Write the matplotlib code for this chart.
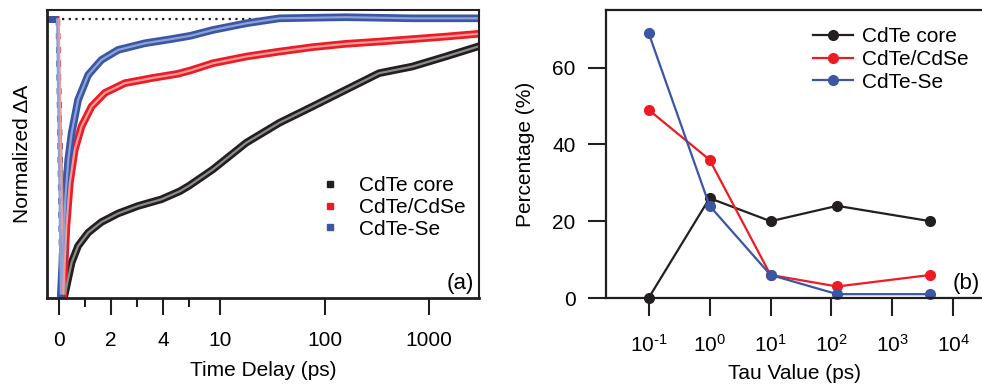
import numpy as np
import matplotlib

matplotlib.use("Agg")
import matplotlib.pyplot as plt
from matplotlib.lines import Line2D

plt.rcParams["font.family"] = ["Liberation Sans", "DejaVu Sans"]
plt.rcParams["font.size"] = 15
plt.rcParams["mathtext.fontset"] = "custom"
plt.rcParams["mathtext.rm"] = "Liberation Sans"
plt.rcParams["mathtext.it"] = "Liberation Sans:italic"

# ---- panel (a): normalized transient absorption kinetics
core_t = [-0.45, -0.05, 0.22, 0.48, 0.73, 1.12, 1.63, 2.27, 3.04, 3.94, 4.65, 5.03,
          8.5, 17.7, 36.8, 76.5, 159, 331, 690, 1436, 2920]
core_v = [0.0, 0.0, -0.99, -0.877, -0.817, -0.769, -0.731, -0.70, -0.673, -0.649,
          -0.62, -0.60, -0.541, -0.445, -0.373, -0.314, -0.254, -0.194, -0.17,
          -0.134, -0.098]

shell_t = [-0.45, -0.02, 0.155, 0.28, 0.41, 0.60, 0.86, 1.25, 1.76, 2.53, 3.55,
           4.58, 5.18, 8.5, 17.7, 36.8, 76.5, 159, 331, 690, 1436, 2920]
shell_v = [0.0, 0.0, -0.99, -0.745, -0.59, -0.47, -0.386, -0.314, -0.265, -0.23,
           -0.212, -0.196, -0.184, -0.158, -0.134, -0.116, -0.10, -0.088, -0.08,
           -0.071, -0.062, -0.052]

alloy_t = [-0.45, -0.08, 0.065, 0.245, 0.35, 0.48, 0.73, 1.12, 1.63, 2.27, 3.30,
           4.32, 5.18, 8.5, 17.7, 36.8, 159, 690, 2920]
alloy_v = [0.0, 0.0, -0.99, -0.637, -0.505, -0.41, -0.29, -0.20, -0.146, -0.11,
           -0.086, -0.071, -0.059, -0.038, -0.014, 0.004, 0.008, 0.004, 0.004]

# ---- panel (b): amplitude of each lifetime component
tau = [0.1, 1, 10, 124, 4200]
pct_core = [0, 26, 20, 24, 20]
pct_shell = [49, 36, 6, 3, 6]
pct_alloy = [69, 24, 6, 1, 1]
tau_ticks = [1e-1, 1e0, 1e1, 1e2, 1e3, 1e4]
tau_ticklabels = [r"$10^{\text{-}1}$", r"$10^{0}$", r"$10^{1}$", r"$10^{2}$",
                  r"$10^{3}$", r"$10^{4}$"]

labels = ["CdTe core", "CdTe/CdSe", "CdTe-Se"]
data_colors = ["#231f20", "#ed1c24", "#3a56a5"]
fit_colors = ["#8c8c8c", "#f39a9a", "#8fa2d6"]

K = 104.7 / 26.0  # decade width relative to 1 ps in the linear part


def _fwd(t):
    t = np.asarray(t, dtype=float)
    return np.where(t <= 5, t, 5 + K * np.log10(np.maximum(t, 5) / 5))


def _inv(u):
    u = np.asarray(u, dtype=float)
    return np.where(u <= 5, u, 5 * 10 ** ((np.maximum(u, 5) - 5) / K))


fig = plt.figure(figsize=(9.82, 3.87), dpi=100)
W, H = 982.0, 387.0
ax1 = fig.add_axes([47 / W, 89 / H, 432 / W, 288 / H])
ax2 = fig.add_axes([606 / W, 89 / H, 376 / W, 288 / H])

# ---------------- panel (a)
ax1.set_xscale("function", functions=(_fwd, _inv))
ax1.set_xlim(-0.47, 3000)
ax1.set_ylim(-1.005, 0.034)
ax1.hlines(0, 0.1, 3000, colors="#231f20", linestyles=(0, (1, 2)), linewidth=1.6)

series = [(core_t, core_v), (shell_t, shell_v), (alloy_t, alloy_v)]
for (t, v), dc in zip(series, data_colors):
    ax1.plot(t[1:3], v[1:3], color=dc, lw=2.2, ls=(0, (2, 2.5)))
    ax1.plot(t[:2], v[:2], color=dc, lw=5, solid_capstyle="butt")
    ax1.plot(t[2:], v[2:], color=dc, lw=5.5, solid_joinstyle="round")
for (t, v), fc in zip(series, fit_colors):
    ax1.plot(t[1:], v[1:], color=fc, lw=1.6)

ax1.set_xticks([0, 2, 4, 10, 100, 1000])
ax1.set_xticklabels(["0", "2", "4", "10", "100", "1000"])
ax1.set_xticks([1, 3, 5], minor=True)
ax1.set_yticks([])
ax1.tick_params(axis="x", which="major", direction="out", length=12, width=1.5,
                pad=12, color="#231f20")
ax1.tick_params(axis="x", which="minor", direction="out", length=6.5, width=1.5,
                color="#231f20")
ax1.set_xlabel("Time Delay (ps)", labelpad=7.5)
ax1.set_ylabel("Normalized \u0394A")
ax1.yaxis.set_label_coords(-0.034, 0.5)
for side in ["left", "bottom"]:
    ax1.spines[side].set_linewidth(2.0)
for side in ["top", "right"]:
    ax1.spines[side].set_linewidth(1.5)
for s in ax1.spines.values():
    s.set_color("#231f20")

handles = [Line2D([], [], ls="none", marker="s", ms=4, color=c, mec=c) for c in data_colors]
ax1.legend(handles, labels, loc="upper left", bbox_to_anchor=(319.6 / W, 0.545),
           bbox_transform=fig.transFigure, frameon=False, borderpad=0, borderaxespad=0,
           handlelength=1.0, handletextpad=0.9, labelspacing=0.13, fontsize=15)
ax1.text(0.988, 0.052, "(a)", transform=ax1.transAxes, ha="right", va="center",
         fontsize=16)

# ---------------- panel (b)
for vals, c, lab in zip([pct_core, pct_shell, pct_alloy], data_colors, labels):
    ax2.plot(tau, vals, color=c, lw=1.6, marker="o", ms=7, label=lab, clip_on=False)
ax2.set_xscale("log")
ax2.set_xlim(10 ** -1.70, 10 ** 4.47)
ax2.set_ylim(0, 75)
ax2.set_xticks(tau_ticks)
ax2.set_xticklabels(tau_ticklabels)
ax2.xaxis.set_minor_locator(matplotlib.ticker.NullLocator())
ax2.set_yticks([0, 20, 40, 60])
ax2.tick_params(which="major", direction="out", length=13, width=1.5, pad=9,
                color="#231f20")
ax2.tick_params(axis="x", pad=13)
ax2.spines["right"].set_visible(False)
for s in ax2.spines.values():
    s.set_linewidth(1.6)
    s.set_color("#231f20")
ax2.set_xlabel("Tau Value (ps)", labelpad=6)
ax2.set_ylabel("Percentage (%)")
ax2.yaxis.set_label_coords(-0.189, 0.5)
ax2.legend(loc="upper left", bbox_to_anchor=(812.7 / W, 0.93),
           bbox_transform=fig.transFigure, frameon=False, borderpad=0, borderaxespad=0,
           handlelength=1.92, handletextpad=0.43, labelspacing=0.18, fontsize=15)
ax2.text(953 / W, 1 - 283 / H, "(b)", transform=fig.transFigure, ha="left",
         va="center", fontsize=16)

fig.savefig("out.png", dpi=100)
